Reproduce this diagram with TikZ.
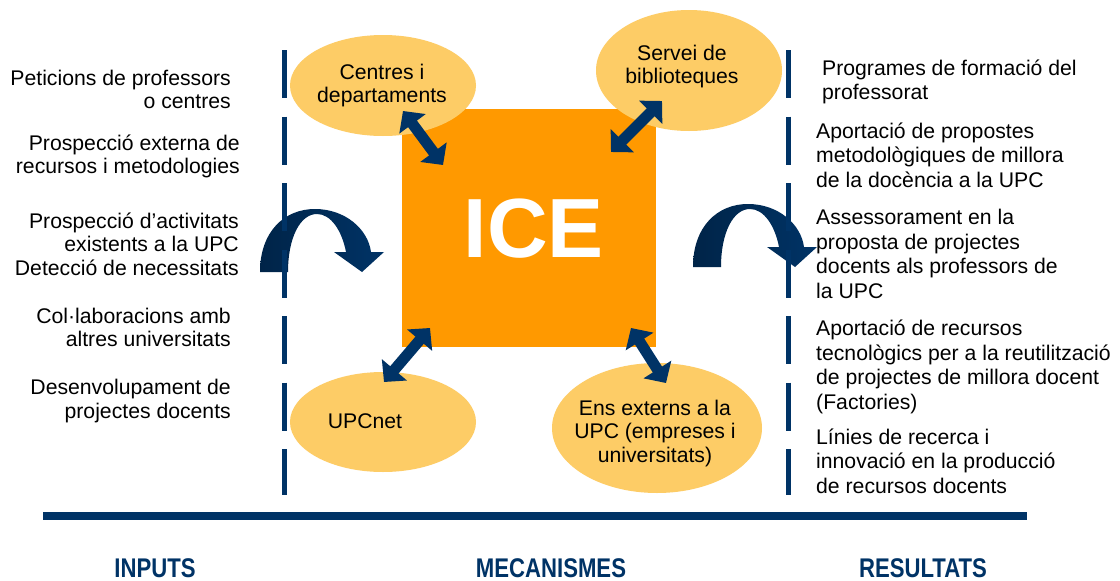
\documentclass[tikz,border=0pt]{standalone}
\usepackage{fontspec}
\setmainfont{Liberation Sans}
\newfontfamily\condfont{Liberation Sans}[FakeStretch=0.82]
\usetikzlibrary{shapes.geometric,arrows.meta}
\definecolor{navy}{RGB}{0,51,102}
\definecolor{navyd}{RGB}{0,36,72}
\definecolor{icebg}{RGB}{255,153,0}
\definecolor{ellfill}{RGB}{253,204,102}
\begin{document}
\begin{tikzpicture}[x=1pt,y=-1pt,
  txt/.style={font=\fontsize{21.2}{23.5}\selectfont, inner sep=0pt},
  lefttxt/.style={txt, align=right, anchor=base east},
  righttxt/.style={inner sep=0pt, font=\fontsize{21.2}{24.4}\selectfont, align=left, anchor=base west},
  elltxt/.style={txt, align=center, anchor=base},
  ell/.style={ellipse, fill=ellfill, inner sep=0pt},
  dbl/.style={navy, line width=11pt, {Triangle[length=16pt,width=32pt]}-{Triangle[length=16pt,width=32pt]}},
  dashline/.style={navy, line width=5pt, dash pattern=on 48pt off 18.5pt},
  cat/.style={font=\condfont\bfseries\fontsize{27}{30}\selectfont, text=navy, anchor=base, inner sep=0pt},
  curved/.style={left color=navyd, right color=navy}
]
\fill[white] (0,0) rectangle (1120,581);
\useasboundingbox (0,0) rectangle (1120,581);

% centre block and satellites
\node[fill=icebg, minimum width=254pt, minimum height=238pt, inner sep=0pt] (ice) at (529,228) {};
\node[font=\bfseries\fontsize{84}{84}\selectfont, text=white, anchor=base, inner sep=0pt] (icetxt) at (534,257) {ICE};

\node[ell, minimum width=186pt, minimum height=101pt] (cen) at (383,85.5) {};
\node[ell, minimum width=186pt, minimum height=121pt] (bib) at (689,70.5) {};
\node[ell, minimum width=186pt, minimum height=100pt] (upc) at (383,422) {};
\node[ell, minimum width=210pt, minimum height=130pt] (ens) at (657,428) {};

% (base anchor = baseline of the last line)
\node[elltxt] (centxt) at (382,102.5) {Centres i\\departaments};
\node[elltxt] (bibtxt) at (682,83.5) {Servei de\\biblioteques};
\node[elltxt] (upctxt) at (365,428) {UPCnet};
\node[elltxt] (enstxt) at (655,462) {Ens externs a la\\UPC (empreses i\\universitats)};

% curved arrows
\shade[curved] (260,272) .. controls (260,232) and (284,209) .. (315,209)
  .. controls (345,209) and (368,229) .. (371,252) -- (384,252) -- (362,272) -- (334,252) -- (346,252)
  .. controls (342,231) and (331,214) .. (317,214) .. controls (300,214) and (288,238) .. (288,272) -- cycle;
\begin{scope}[shift={(433,-5)}]
\shade[curved] (260,272) .. controls (260,232) and (284,209) .. (315,209)
  .. controls (345,209) and (368,229) .. (371,252) -- (384,252) -- (362,272) -- (334,252) -- (346,252)
  .. controls (342,231) and (331,214) .. (317,214) .. controls (300,214) and (288,238) .. (288,272) -- cycle;
\end{scope}

% dashed separators
\coordinate (ltop) at (284,50);
\coordinate (lbot) at (284,495);
\coordinate (rtop) at (788,50);
\coordinate (rbot) at (788,495);
\draw[dashline] (ltop) -- (lbot);
\draw[dashline] (rtop) -- (rbot);

% double arrows
\coordinate (a1s) at (403,111); \coordinate (a1e) at (443,165);
\coordinate (a2s) at (662,101); \coordinate (a2e) at (611,152);
\coordinate (a3s) at (430,328); \coordinate (a3e) at (384,382);
\coordinate (a4s) at (631,328); \coordinate (a4e) at (666,383);
\draw[dbl] (a1s) -- (a1e);
\draw[dbl] (a2s) -- (a2e);
\draw[dbl] (a3s) -- (a3e);
\draw[dbl] (a4s) -- (a4e);

% inputs
\node[lefttxt] (in1) at (231,108.5) {Peticions de professors\\o centres};
\node[lefttxt] (in2) at (240,173.5) {Prospecció externa de\\recursos i metodologies};
\node[lefttxt] (in3) at (239,275) {Prospecció d’activitats\\existents a la UPC\\Detecció de necessitats};
\node[lefttxt] (in4) at (231,346.5) {Col·laboracions amb\\altres universitats};
\node[lefttxt] (in5) at (231,418) {Desenvolupament de\\projectes docents};

% results
\node[righttxt] (out1) at (822,99.5) {Programes de formació del\\professorat};
\node[righttxt] (out2) at (816,187) {Aportació de propostes\\metodològiques de millora\\de la docència a la UPC};
\node[righttxt] (out3) at (816,298) {Assessorament en la\\proposta de projectes\\docents als professors de\\la UPC};
\node[righttxt] (out4) at (816,409) {Aportació de recursos\\tecnològics per a la reutilització\\de projectes de millora docent\\(Factories)};
\node[righttxt] (out5) at (816,493) {Línies de recerca i\\innovació en la producció\\de recursos docents};

% bottom bar and categories
\coordinate (barl) at (43,515.5);
\coordinate (barr) at (1027,515.5);
\draw[navy, line width=8pt] (barl) -- (barr);
\node[cat] (cin) at (155,577) {INPUTS};
\node[cat] (cmec) at (551,577) {MECANISMES};
\node[cat] (cres) at (923,577) {RESULTATS};
\end{tikzpicture}
\end{document}
